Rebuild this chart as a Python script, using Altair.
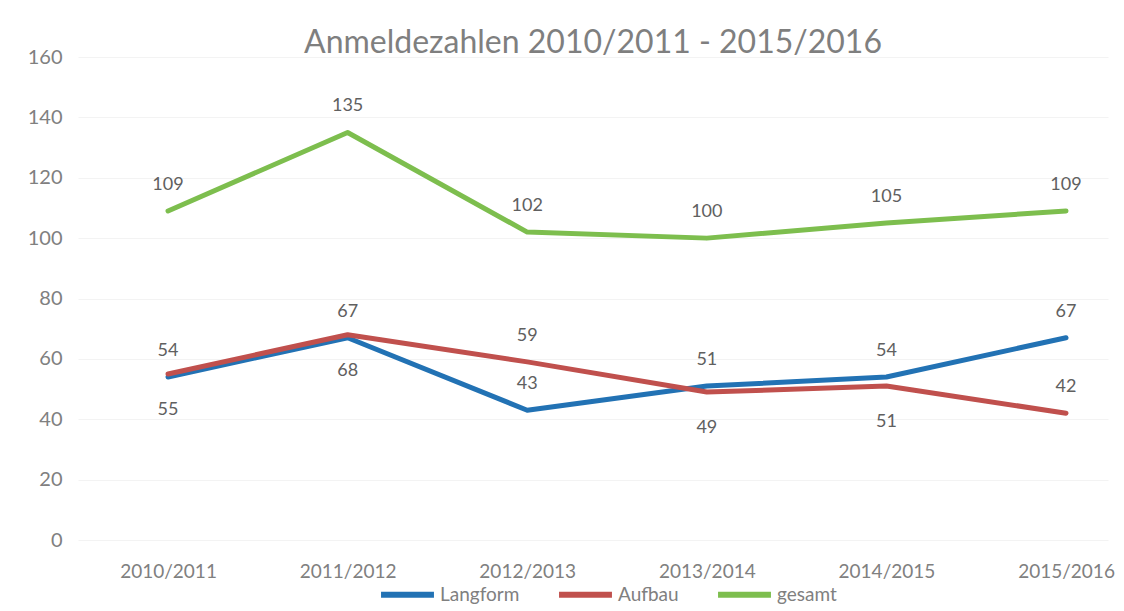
import altair as alt
import pandas as pd

jahre = ["2010/2011", "2011/2012", "2012/2013", "2013/2014", "2014/2015", "2015/2016"]
langform = [54, 67, 43, 51, 54, 67]
aufbau = [55, 68, 59, 49, 51, 42]
gesamt = [109, 135, 102, 100, 105, 109]
serien = ["Langform", "Aufbau", "gesamt"]
farben = ["#2272B4", "#C0504D", "#7DBE4E"]
y_ticks = [0, 20, 40, 60, 80, 100, 120, 140, 160]

rows = []
for i, j in enumerate(jahre):
    for s, vals in zip(serien, [langform, aufbau, gesamt]):
        rows.append({"Jahr": j, "Serie": s, "Wert": vals[i],
                     "Abstand": abs(aufbau[i] - langform[i])})
df = pd.DataFrame(rows)

FONT = "Lato"

x = alt.X("Jahr:N", sort=jahre,
          scale=alt.Scale(type="point", padding=0.3675, align=0.682),
          axis=alt.Axis(title=None, labelAngle=0, domain=False, ticks=False,
                        labelPadding=22, labelFontSize=19, labelFont=FONT,
                        labelColor="#808080", grid=False))
y = alt.Y("Wert:Q", scale=alt.Scale(domain=[0, 160], nice=False),
          axis=alt.Axis(title=None, values=y_ticks, domain=False, ticks=False,
                        labelPadding=16, labelFontSize=20, labelFont=FONT,
                        labelColor="#808080", gridColor="#F3F3F3", gridWidth=1))
color = alt.Color("Serie:N", sort=serien,
                  scale=alt.Scale(domain=serien, range=farben),
                  legend=alt.Legend(title=None, orient="none", direction="horizontal",
                                    legendX=300, legendY=508,
                                    symbolType="stroke", symbolSize=2800,
                                    symbolStrokeWidth=6, labelFontSize=19,
                                    labelFont=FONT, labelColor="#808080",
                                    labelOffset=3, columnPadding=27))

base = alt.Chart(df)

lines = base.mark_line(strokeWidth=5, strokeCap="round", strokeJoin="round").encode(
    x=x, y=y, color=color, order=alt.Order("Serie:N"))

above = base.transform_filter(
    "datum.Serie != 'Aufbau' || datum.Abstand > 10"
).mark_text(dy=-26, fontSize=18, font=FONT, color="#606060").encode(
    x=x, y=y, text="Wert:Q")

below = base.transform_filter(
    "datum.Serie == 'Aufbau' && datum.Abstand <= 10"
).mark_text(dy=36, fontSize=18, font=FONT, color="#606060").encode(
    x=x, y=y, text="Wert:Q")

chart = alt.layer(lines, above, below).properties(
    width=1030, height=483,
    background="white",
    title=alt.TitleParams("Anmeldezahlen 2010/2011 - 2015/2016", fontSize=32,
                          font=FONT, fontWeight="normal", color="#7F7F7F",
                          anchor="middle", offset=-13),
    autosize=alt.AutoSizeParams(type="none"),
    padding={"left": 70, "top": 49, "right": 8, "bottom": 66},
).configure_view(stroke=None)

chart.save("out.html", embed_options={"renderer": "svg", "actions": False})
